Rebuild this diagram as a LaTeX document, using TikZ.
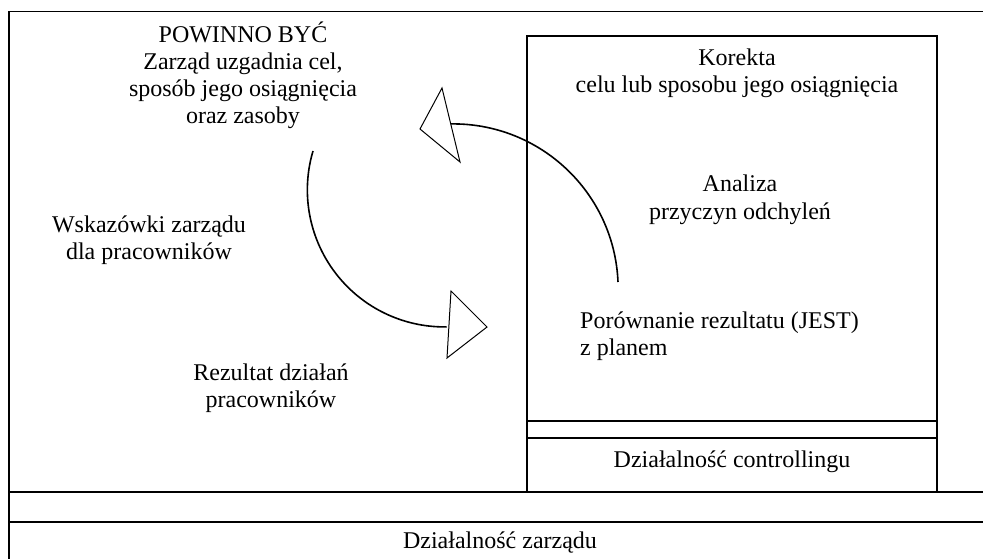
\documentclass[tikz,border=0pt]{standalone}
\usepackage{fontspec}
\setmainfont{Liberation Serif}
\begin{document}
\begin{tikzpicture}[x=1pt,y=1pt,
  frame/.style={line width=1.2pt},
  lbl/.style={font=\fontsize{24}{27.5}\selectfont, inner sep=0pt, anchor=base},
  lblw/.style={lbl, anchor=base west},
  flow/.style={line width=1.6pt},
  head/.style={line width=1pt, fill=white, line join=miter}]
\useasboundingbox (0,0) rectangle (983,-559);
% frames
\draw[frame] (9,-559) -- (9,-11.7) -- (983,-11.7);
\draw[frame] (9,-492) -- (983,-492);
\draw[frame] (9,-522) -- (983,-522);
\draw[frame] (527,-36) rectangle (937,-492);
\draw[frame] (527,-421) -- (937,-421);
\draw[frame] (527,-438) -- (937,-438);
% texts
\node[lbl] (t1) at (243,-43) {POWINNO BYĆ};
\node[lbl] (t2) at (243,-70) {Zarząd uzgadnia cel,};
\node[lbl] (t3) at (243,-97) {sposób jego osiągnięcia};
\node[lbl] (t4) at (243,-124) {oraz zasoby};
\node[lbl] (k1) at (737,-66) {Korekta};
\node[lbl] (k2) at (737,-93) {celu lub sposobu jego osiągnięcia};
\node[lbl] (a1) at (740,-192) {Analiza};
\node[lbl] (a2) at (740,-219) {przyczyn odchyleń};
\node[lblw] (p1) at (580,-328) {Porównanie rezultatu (JEST)};
\node[lblw] (p2) at (580,-355) {z planem};
\node[lbl] (w1) at (149,-233) {Wskazówki zarządu};
\node[lbl] (w2) at (149,-259) {dla pracowników};
\node[lbl] (r1) at (271,-380) {Rezultat działań};
\node[lbl] (r2) at (271,-407) {pracowników};
\node[lbl] (c1) at (732,-467) {Działalność controllingu};
\node[lbl] (z1) at (500,-548) {Działalność zarządu};
% arrows
\coordinate (s1) at (313,-151);
\coordinate (s2) at (618,-282);
\draw[flow] (s1) arc[start angle=163.5, end angle=271, radius=137];
\draw[flow] (s2) arc[start angle=2.4, end angle=91, radius=165];
\coordinate (h1a) at (451,-291);
\coordinate (h1b) at (487,-327);
\coordinate (h1c) at (447,-358);
\coordinate (h2a) at (442,-88);
\coordinate (h2b) at (420,-129);
\coordinate (h2c) at (460,-162);
\draw[head] (h1a) -- (h1b) -- (h1c) -- cycle;
\draw[head] (h2a) -- (h2b) -- (h2c) -- cycle;
\end{tikzpicture}
\end{document}
